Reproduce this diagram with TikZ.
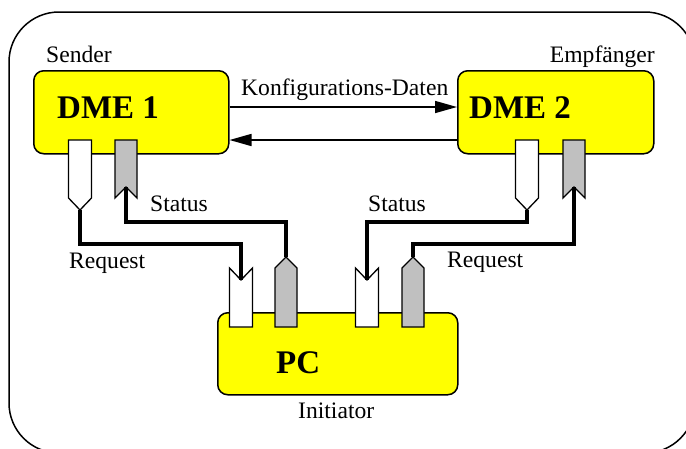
\documentclass[tikz,border=0pt]{standalone}
\usepackage{fontspec}
\setmainfont{Liberation Serif}
\usetikzlibrary{arrows.meta,calc}
\definecolor{boxyellow}{HTML}{FFFF00}
\definecolor{portgray}{HTML}{C0C0C0}
\tikzset{
  unit/.style={draw=black, line width=1.5pt, fill=boxyellow, rounded corners=10pt,
               inner sep=0pt, anchor=north west},
  port/.style={draw=black, line width=1.3pt, line join=miter},
  wire/.style={draw=black, line width=3.6pt, line join=miter},
  link/.style={draw=black, line width=1.5pt, -{Triangle[length=22pt,width=12pt]}},
  lbl/.style={font=\fontsize{23.6}{26}\selectfont, inner sep=0pt},
  title/.style={font=\fontsize{33}{38}\selectfont\bfseries, inner sep=0pt}
}
\begin{document}
\begin{tikzpicture}[x=1pt,y=-1pt]
\useasboundingbox (0,0) rectangle (686,448);

% outer frame (runs past the lower and right edges)
\draw[line width=1.5pt, rounded corners=50pt] (9,12) rectangle (695,453);

% units
\node[unit, minimum width=195pt, minimum height=83pt] (dme1) at (33,70) {};
\node[unit, minimum width=196pt, minimum height=83pt] (dme2) at (457,70) {};
\node[unit, minimum width=240pt, minimum height=82pt] (pc) at (217,312) {};

% ports on DME 1 (white: out, grey: in)
\draw[port, fill=white] (68.5,140) -- (91.5,140) -- (91.5,198) -- (80,210) -- (68.5,198) -- cycle;
\coordinate (req1) at (80,210);
\draw[port, fill=portgray] (115,140) -- (137,140) -- (137,198) -- (126,187) -- (115,198) -- cycle;
\coordinate (st1) at (126,187);

% ports on DME 2
\draw[port, fill=white] (515.5,140) -- (538.5,140) -- (538.5,198) -- (527,210) -- (515.5,198) -- cycle;
\coordinate (st2) at (527,210);
\draw[port, fill=portgray] (563,140) -- (585,140) -- (585,198) -- (574,187) -- (563,198) -- cycle;
\coordinate (req2) at (574,187);

% ports on PC
\draw[port, fill=white] (229.5,327) -- (229.5,268) -- (241,280) -- (252.5,268) -- (252.5,327) -- cycle;
\coordinate (pcreq1) at (241,280);
\draw[port, fill=portgray] (275,327) -- (275,268) -- (286,257) -- (297,268) -- (297,327) -- cycle;
\coordinate (pcst1) at (286,257);
\draw[port, fill=white] (355.5,327) -- (355.5,268) -- (367,280) -- (378.5,268) -- (378.5,327) -- cycle;
\coordinate (pcst2) at (367,280);
\draw[port, fill=portgray] (402,327) -- (402,268) -- (413,257) -- (424,268) -- (424,327) -- cycle;
\coordinate (pcreq2) at (413,257);

% wires
\draw[wire] (req1) |- (241,244) -- (pcreq1);
\draw[wire] (pcst1) |- (126,222) -- (st1);
\draw[wire] (st2) |- (367,222) -- (pcst2);
\draw[wire] (pcreq2) |- (574,244) -- (req2);

% configuration links
\draw[link] ([yshift=-37pt]dme1.north east) -- ([yshift=-37pt]dme2.north west);
\draw[link] ([yshift=-70pt]dme2.north west) -- ([yshift=-70pt]dme1.north east);

% titles
\node[title, anchor=base west] (t1) at (57,118) {DME 1};
\node[title, anchor=base west] (t2) at (469,118) {DME 2};
\node[title, anchor=base west] (t3) at (276,373) {PC};

% labels
\node[lbl, anchor=base west] (l1) at (46,62) {Sender};
\node[lbl, anchor=base east] (l2) at (655,62) {Empfänger};
\node[lbl, anchor=base west] (l3) at (241,95) {Konfigurations-Daten};
\node[lbl, anchor=base west] (l4) at (150,211) {Status};
\node[lbl, anchor=base west] (l5) at (368,211) {Status};
\node[lbl, anchor=base west] (l6) at (69,268) {Request};
\node[lbl, anchor=base west] (l7) at (447,267) {Request};
\node[lbl, anchor=base west] (l8) at (298,418) {Initiator};
\end{tikzpicture}
\end{document}
